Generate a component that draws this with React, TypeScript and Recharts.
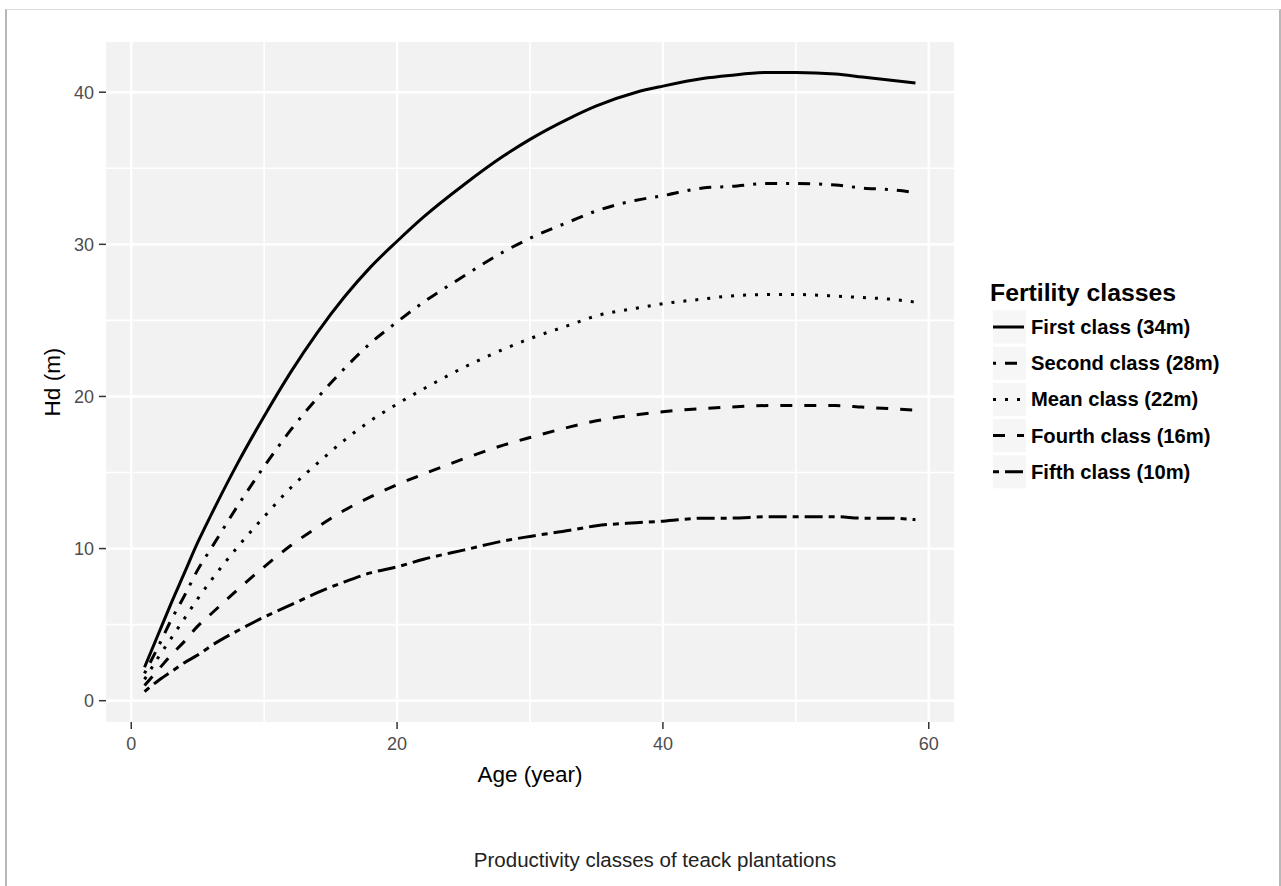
import React from "react";
import {
  CartesianGrid,
  Legend,
  Line,
  LineChart,
  XAxis,
  YAxis,
} from "recharts";

const AGES = [1, 2, 3, 4, 5, 6, 8, 10, 12, 14, 16, 18, 20, 22, 25, 28, 30, 33, 35, 38, 40, 43, 45, 48, 50, 53, 55, 57, 59];

const FIRST = [2.2, 4.3, 6.4, 8.4, 10.4, 12.2, 15.6, 18.7, 21.6, 24.2, 26.5, 28.5, 30.2, 31.8, 33.9, 35.8, 36.9, 38.3, 39.1, 40.0, 40.4, 40.9, 41.1, 41.3, 41.3, 41.2, 41.0, 40.8, 40.6];
const SECOND = [1.8, 3.5, 5.3, 6.9, 8.6, 10.0, 12.8, 15.4, 17.8, 19.9, 21.8, 23.5, 24.9, 26.2, 27.9, 29.5, 30.4, 31.5, 32.2, 32.9, 33.2, 33.7, 33.8, 34.0, 34.0, 33.9, 33.7, 33.6, 33.4];
const MEAN = [1.4, 2.8, 4.1, 5.4, 6.7, 7.9, 10.1, 12.1, 14.0, 15.6, 17.1, 18.4, 19.5, 20.5, 21.9, 23.1, 23.8, 24.7, 25.3, 25.8, 26.1, 26.4, 26.6, 26.7, 26.7, 26.6, 26.5, 26.4, 26.2];
const FOURTH = [1.0, 2.0, 3.0, 3.9, 4.9, 5.7, 7.3, 8.8, 10.2, 11.4, 12.5, 13.4, 14.2, 14.9, 15.9, 16.8, 17.3, 18.0, 18.4, 18.8, 19.0, 19.2, 19.3, 19.4, 19.4, 19.4, 19.3, 19.2, 19.1];
const FIFTH = [0.6, 1.3, 1.9, 2.5, 3.0, 3.6, 4.6, 5.5, 6.3, 7.1, 7.8, 8.4, 8.8, 9.3, 9.9, 10.5, 10.8, 11.2, 11.5, 11.7, 11.8, 12.0, 12.0, 12.1, 12.1, 12.1, 12.0, 12.0, 11.9];

const X_TICKS = [0, 20, 40, 60];
const X_MINOR = [10, 30, 50];
const Y_TICKS = [0, 10, 20, 30, 40];
const Y_MINOR = [5, 15, 25, 35];

// ggplot linetypes scaled by the line width (3px)
const SERIES = [
  { key: "first", label: "First class (34m)", values: FIRST, dash: undefined },
  { key: "second", label: "Second class (28m)", values: SECOND, dash: "3 9 12 9" },
  { key: "mean", label: "Mean class (22m)", values: MEAN, dash: "3 9" },
  { key: "fourth", label: "Fourth class (16m)", values: FOURTH, dash: "12 12" },
  { key: "fifth", label: "Fifth class (10m)", values: FIFTH, dash: "6 6 18 6" },
];

const data = AGES.map((age, i) => {
  const row: Record<string, number> = { age };
  SERIES.forEach((s) => {
    row[s.key] = s.values[i];
  });
  return row;
});

const FONT = '"Liberation Sans", Arial, sans-serif';

function FertilityLegend() {
  return (
    <svg width={280} height={230} style={{ display: "block" }}>
      <text x={2} y={30.7} fontSize={24.8} fontWeight="bold" fill="#000" fontFamily={FONT}>
        Fertility classes
      </text>
      {SERIES.map((s, i) => {
        const cy = 57 + 36.2 * i;
        return (
          <g key={s.key}>
            <rect x={5} y={cy - 16.5} width={33} height={33} fill="#F6F6F6" />
            <line x1={5} x2={36} y1={cy} y2={cy} stroke="#000" strokeWidth={3} strokeDasharray={s.dash} />
            <text x={43} y={cy + 7} fontSize={20.2} fontWeight="bold" fill="#000" fontFamily={FONT}>
              {s.label}
            </text>
          </g>
        );
      })}
    </svg>
  );
}

export default function App() {
  return (
    <div
      style={{
        position: "absolute",
        left: 0,
        top: 0,
        width: 1281,
        height: 886,
        overflow: "hidden",
        background: "#fff",
        fontFamily: FONT,
      }}
    >
      <div
        style={{
          position: "absolute",
          left: 5,
          top: 9,
          width: 1272,
          height: 900,
          borderTop: "1px solid #dcdcdc",
          borderLeft: "2px solid #b8b8b8",
          borderRight: "2px solid #b8b8b8",
        }}
      />
      <div style={{ position: "absolute", left: 0, top: 0 }}>
        <LineChart
          width={1281}
          height={886}
          data={data}
          margin={{ top: 42, right: 327, bottom: 94, left: 40 }}
        >
          <CartesianGrid
            fill="#F2F2F2"
            stroke="#fff"
            strokeWidth={1.6}
            horizontalValues={Y_MINOR}
            verticalValues={X_MINOR}
          />
          <CartesianGrid
            stroke="#fff"
            strokeWidth={2.4}
            horizontalValues={Y_TICKS}
            verticalValues={X_TICKS}
          />
          <XAxis
            type="number"
            dataKey="age"
            domain={[-1.9, 61.9]}
            ticks={X_TICKS}
            allowDataOverflow
            height={70}
            axisLine={false}
            tickSize={7}
            tickMargin={8}
            tickLine={{ stroke: "#333", strokeWidth: 1.5 }}
            tick={{ fill: "#4D4D4D", fontSize: 18, fontFamily: FONT }}
            label={(props: any) => {
              const vb = props.viewBox;
              return (
                <text
                  x={vb.x + vb.width / 2}
                  y={vb.y + 60}
                  textAnchor="middle"
                  fontSize={22.5}
                  fill="#000"
                  fontFamily={FONT}
                >
                  Age (year)
                </text>
              );
            }}
          />
          <YAxis
            type="number"
            domain={[-1.4, 43.3]}
            ticks={Y_TICKS}
            allowDataOverflow
            width={66}
            axisLine={false}
            tickSize={7}
            tickMargin={5}
            tickLine={{ stroke: "#333", strokeWidth: 1.5 }}
            tick={{ fill: "#4D4D4D", fontSize: 18, fontFamily: FONT }}
            label={(props: any) => {
              const vb = props.viewBox;
              const cx = vb.x + 20;
              const cy = vb.y + vb.height / 2;
              return (
                <text
                  x={cx}
                  y={cy}
                  transform={`rotate(-90 ${cx} ${cy})`}
                  textAnchor="middle"
                  fontSize={22.5}
                  fill="#000"
                  fontFamily={FONT}
                >
                  Hd (m)
                </text>
              );
            }}
          />
          {SERIES.map((s) => (
            <Line
              key={s.key}
              dataKey={s.key}
              name={s.label}
              type="monotone"
              stroke="#000"
              strokeWidth={3}
              strokeDasharray={s.dash}
              dot={false}
              activeDot={false}
              isAnimationActive={false}
            />
          ))}
          <Legend
            layout="horizontal"
            verticalAlign="middle"
            align="center"
            wrapperStyle={{ left: 988, top: 270, width: 280 }}
            content={() => <FertilityLegend />}
          />
        </LineChart>
      </div>
      <div
        style={{
          position: "absolute",
          left: 0,
          top: 848,
          width: 1310,
          textAlign: "center",
          fontSize: 20.5,
          lineHeight: "24px",
          color: "#222",
          paddingRight: 0,
        }}
      >
        <span style={{ position: "relative", left: 655 - 655 }}>
          Productivity classes of teack plantations
        </span>
      </div>
    </div>
  );
}
